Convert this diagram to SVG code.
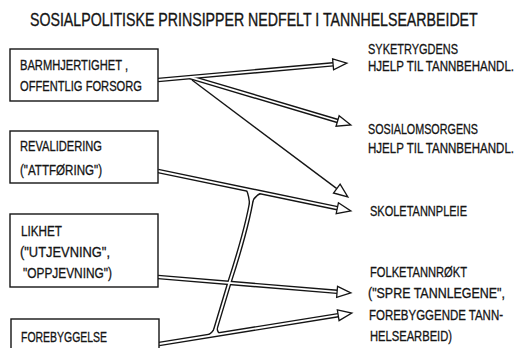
<svg xmlns="http://www.w3.org/2000/svg" width="522" height="348" viewBox="0 0 522 348">
<defs>
<style>
text{font-family:"Liberation Sans",Arial,sans-serif;font-size:14px;fill:#151515;stroke:#151515;stroke-width:0.3;}
.title{font-size:18px;stroke-width:0.35;}
.box{fill:#fff;stroke:#151515;stroke-width:1.4;}
.bk{fill:none;stroke:#151515;stroke-width:4.6;}
.wh{fill:none;stroke:#fff;stroke-width:1.8;}
.arr{marker-end:url(#ah);}
.flbk{fill:#151515;stroke:#151515;stroke-width:2.8;stroke-linejoin:round;}
.flwh{fill:#fff;stroke:none;}
.single{fill:none;stroke:#151515;stroke-width:1.4;}
</style>
<marker id="ah" markerUnits="userSpaceOnUse" markerWidth="16" markerHeight="13" refX="0.7" refY="6" orient="auto" overflow="visible">
<path d="M0.7,0.5 L14.5,6 L0.7,11.5 Z" fill="#fff" stroke="#151515" stroke-width="1.3"/>
</marker>
</defs>
<rect width="522" height="348" fill="#fff"/>
<text class="title" transform="translate(30,26) scale(0.82,1)" textLength="546" lengthAdjust="spacingAndGlyphs">SOSIALPOLITISKE PRINSIPPER NEDFELT I TANNHELSEARBEIDET</text>

<g id="connectors">
<g id="pipes-black">
<path class="bk" d="M158,80 L333.1,64.3"/>
<path class="bk" d="M190,77.1 L337.6,121"/>
<path class="bk" d="M158,171 L337.3,208.2"/>
<path class="bk" d="M158,277 L337.1,291.8"/>
<path class="bk" d="M159,344 L338.2,315.2"/>
<path class="bk" d="M253,190.7 C250,215 240,250 229.3,282.9 L213.6,335.2"/>
<path class="flbk" d="M247,189.45 Q250,196 250.4,206.5 Q252,196 261,192.35 Z"/>
<path class="flbk" d="M207.5,336.2 Q214,333 216.4,326 Q216,332 219.5,334.3 Z"/>
</g>
<g id="pipes-white">
<path class="wh" d="M253,190.7 C250,215 240,250 229.3,282.9 L213.6,335.2"/>
<path class="flwh" d="M247,189.45 Q250,196 250.4,206.5 Q252,196 261,192.35 Z"/>
<path class="flwh" d="M207.5,336.2 Q214,333 216.4,326 Q216,332 219.5,334.3 Z"/>
<path class="wh arr" d="M158,80 L333.1,64.3"/>
<path class="wh arr" d="M190,77.1 L337.6,121"/>
<path class="wh arr" d="M158,171 L337.3,208.2"/>
<path class="wh arr" d="M158,277 L337.1,291.8"/>
<path class="wh arr" d="M159,344 L338.2,315.2"/>
</g>
<path class="single arr" d="M192,80 L336.8,188.6"/>
</g>

<g id="n-barmhjertighet">
<rect class="box" x="10" y="49" width="148" height="52"/>
<text transform="translate(20,70) scale(0.8,1)" textLength="135" lengthAdjust="spacingAndGlyphs">BARMHJERTIGHET ,</text>
<text transform="translate(20,91) scale(0.8,1)" textLength="152.5" lengthAdjust="spacingAndGlyphs">OFFENTLIG FORSORG</text>
</g>
<g id="n-revalidering">
<rect class="box" x="10" y="131" width="148" height="52"/>
<text transform="translate(20,151) scale(0.8,1)" textLength="102.5" lengthAdjust="spacingAndGlyphs">REVALIDERING</text>
<text transform="translate(20,175) scale(0.8,1)" textLength="102.5" lengthAdjust="spacingAndGlyphs">("ATTFØRING")</text>
</g>
<g id="n-likhet">
<rect class="box" x="10" y="214" width="148" height="73"/>
<text transform="translate(21,236) scale(0.8,1)" textLength="51.25" lengthAdjust="spacingAndGlyphs">LIKHET</text>
<text transform="translate(20,257) scale(0.8,1)" textLength="112.5" lengthAdjust="spacingAndGlyphs">("UTJEVNING",</text>
<text transform="translate(23,278) scale(0.8,1)" textLength="111.25" lengthAdjust="spacingAndGlyphs">"OPPJEVNING")</text>
</g>
<g id="n-forebyggelse">
<rect class="box" x="11" y="319" width="148" height="40"/>
<text transform="translate(21,342) scale(0.8,1)" textLength="107.5" lengthAdjust="spacingAndGlyphs">FOREBYGGELSE</text>
</g>

<g id="n-syketrygdens">
<text transform="translate(368,54) scale(0.8,1)" textLength="112.5" lengthAdjust="spacingAndGlyphs">SYKETRYGDENS</text>
<text transform="translate(368,71) scale(0.8,1)" textLength="182.5" lengthAdjust="spacingAndGlyphs">HJELP TIL TANNBEHANDL.</text>
</g>
<g id="n-sosialomsorgens">
<text transform="translate(368,134) scale(0.8,1)" textLength="137.5" lengthAdjust="spacingAndGlyphs">SOSIALOMSORGENS</text>
<text transform="translate(368,153) scale(0.8,1)" textLength="182.5" lengthAdjust="spacingAndGlyphs">HJELP TIL TANNBEHANDL.</text>
</g>
<g id="n-skoletannpleie">
<text transform="translate(370,216) scale(0.8,1)" textLength="121.25" lengthAdjust="spacingAndGlyphs">SKOLETANNPLEIE</text>
</g>
<g id="n-folketannrokt">
<text transform="translate(370,277) scale(0.8,1)" textLength="121.25" lengthAdjust="spacingAndGlyphs">FOLKETANNRØKT</text>
<text transform="translate(368,298) scale(0.8,1)" textLength="171.25" lengthAdjust="spacingAndGlyphs">("SPRE TANNLEGENE",</text>
<text transform="translate(369,320) scale(0.8,1)" textLength="167.5" lengthAdjust="spacingAndGlyphs">FOREBYGGENDE TANN-</text>
<text transform="translate(370,341) scale(0.8,1)" textLength="102.5" lengthAdjust="spacingAndGlyphs">HELSEARBEID)</text>
</g>
</svg>
